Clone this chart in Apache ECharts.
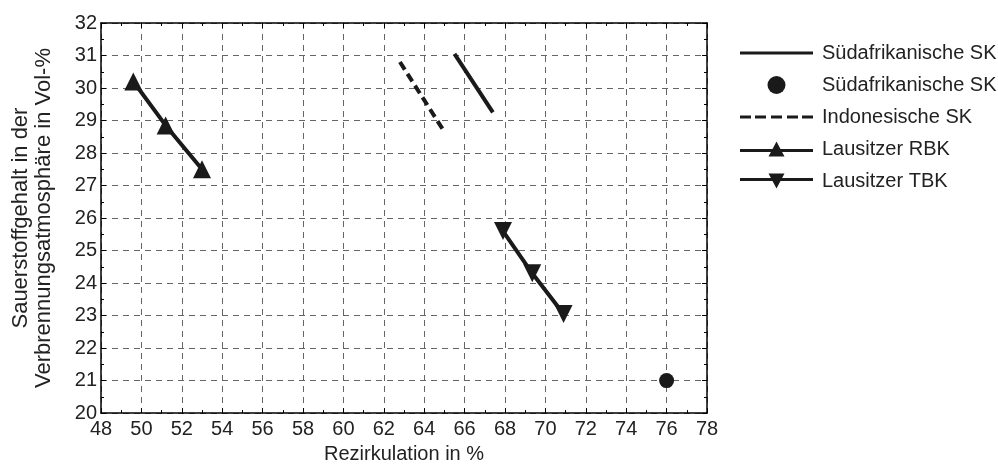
<!DOCTYPE html>
<html>
    <head>
        <meta charset="UTF-8">
        <title>Sauerstoffgehalt vs Rezirkulation</title>
        <script src="https://cdn.jsdelivr.net/npm/echarts@6/dist/echarts.min.js"></script>
    </head>
    <style>
        html, body{
            margin: 0;
            padding: 0;
            background: #fff;
        }
        #main{
            width: 998px;
            height: 469px;
        }
    </style>
    <body>
    <div id="main"></div>
    <script>
        // Werte
        var seriesNames = ["Südafrikanische SK", "Südafrikanische SK ", "Indonesische SK", "Lausitzer RBK", "Lausitzer TBK"];
        var saLineX = [65.5, 67.4];
        var saLineY = [31.05, 29.25];
        var saPointX = [76];
        var saPointY = [21];
        var indoX = [62.8, 64.9];
        var indoY = [30.8, 28.75];
        var rbkX = [49.6, 51.2, 53.0];
        var rbkY = [30.2, 28.85, 27.5];
        var tbkX = [67.9, 69.35, 70.9];
        var tbkY = [25.6, 24.3, 23.05];
        var xTicks = [48, 50, 52, 54, 56, 58, 60, 62, 64, 66, 68, 70, 72, 74, 76, 78];
        var yTicks = [20, 21, 22, 23, 24, 25, 26, 27, 28, 29, 30, 31, 32];

        function pairs(xs, ys) {
            return xs.map(function (x, i) { return [x, ys[i]]; });
        }

        var font = "'Liberation Sans', Arial, sans-serif";
        var ink = "#1a1a1a";
        var dash = {show: true, lineStyle: {color: "#666", width: 1, type: [6, 5]}};

        // Legendensymbole
        var iconLine = 'path://M0,7.5H73V10.5H0Z';
        var iconDash = 'path://M0,7.5H11V10.5H0Z M15,7.5H26V10.5H15Z M31,7.5H42V10.5H31Z M47,7.5H58V10.5H47Z M62,7.5H73V10.5H62Z';
        var iconUp = 'path://M0,9.5H73V12.5H0Z M28.5,17L36.5,2L44.5,17Z';
        var iconDown = 'path://M0,6.5H73V9.5H0Z M28.5,2L44.5,2L36.5,17Z';

        function xAx(pos, main) {
            return {
                type: 'value', position: pos,
                min: xTicks[0], max: xTicks[xTicks.length - 1], interval: 2,
                name: main ? 'Rezirkulation in %' : '',
                nameLocation: 'middle', nameGap: 29,
                nameTextStyle: {fontFamily: font, fontSize: 20, color: '#222'},
                axisLine: {show: true, lineStyle: {color: '#000', width: 1.5}},
                axisTick: {show: true, inside: true, length: 5, lineStyle: {color: '#000'}},
                minorTick: {show: true, splitNumber: 2, length: 3, lineStyle: {color: '#000'}},
                axisLabel: {show: main, fontFamily: font, fontSize: 20, color: '#222', margin: 6},
                splitLine: main ? dash : {show: false}
            };
        }
        function yAx(pos, main) {
            return {
                type: 'value', position: pos,
                min: yTicks[0], max: yTicks[yTicks.length - 1], interval: 1,
                name: main ? 'Sauerstoffgehalt in der\nVerbrennungsatmosphäre in Vol-%' : '',
                nameLocation: 'middle', nameGap: 46, nameRotate: 90,
                nameTextStyle: {fontFamily: font, fontSize: 22, color: '#222', lineHeight: 23},
                axisLine: {show: true, lineStyle: {color: '#000', width: 1.5}},
                axisTick: {show: true, inside: true, length: 5, lineStyle: {color: '#000'}},
                minorTick: {show: true, splitNumber: 2, length: 3, lineStyle: {color: '#000'}},
                axisLabel: {show: main, fontFamily: font, fontSize: 20, color: '#222', margin: 4},
                splitLine: main ? dash : {show: false}
            };
        }

        var myChart = echarts.init(document.getElementById('main'));
        myChart.setOption({
            backgroundColor: '#fff',
            animation: false,
            grid: {left: 101, right: 291, top: 23, bottom: 55},
            legend: {
                orient: 'vertical', left: 735, top: 38,
                itemWidth: 73, itemHeight: 18, itemGap: 12,
                textStyle: {fontFamily: font, fontSize: 20, color: '#222', padding: [0, 0, 0, 4]},
                data: [
                    {name: seriesNames[0], icon: iconLine},
                    {name: seriesNames[1]},
                    {name: seriesNames[2], icon: iconDash},
                    {name: seriesNames[3], icon: iconUp},
                    {name: seriesNames[4], icon: iconDown}
                ]
            },
            xAxis: [xAx('bottom', true), xAx('top', false)],
            yAxis: [yAx('left', true), yAx('right', false)],
            series: [
                {
                    name: seriesNames[0], type: 'line', data: pairs(saLineX, saLineY),
                    symbol: 'none',
                    lineStyle: {color: ink, width: 4}, itemStyle: {color: ink}
                },
                {
                    name: seriesNames[1], type: 'scatter', data: pairs(saPointX, saPointY),
                    symbol: 'circle', symbolSize: 15, itemStyle: {color: ink, opacity: 1}
                },
                {
                    name: seriesNames[2], type: 'line', data: pairs(indoX, indoY),
                    symbol: 'none',
                    lineStyle: {color: ink, width: 4, type: [9, 5]}, itemStyle: {color: ink}
                },
                {
                    name: seriesNames[3], type: 'line', data: pairs(rbkX, rbkY),
                    symbol: 'triangle', symbolSize: 18,
                    lineStyle: {color: ink, width: 4}, itemStyle: {color: ink}
                },
                {
                    name: seriesNames[4], type: 'line', data: pairs(tbkX, tbkY),
                    symbol: 'triangle', symbolSize: 18, symbolRotate: 180,
                    lineStyle: {color: ink, width: 4}, itemStyle: {color: ink}
                }
            ]
        });
    </script>
   </body>
</html>
